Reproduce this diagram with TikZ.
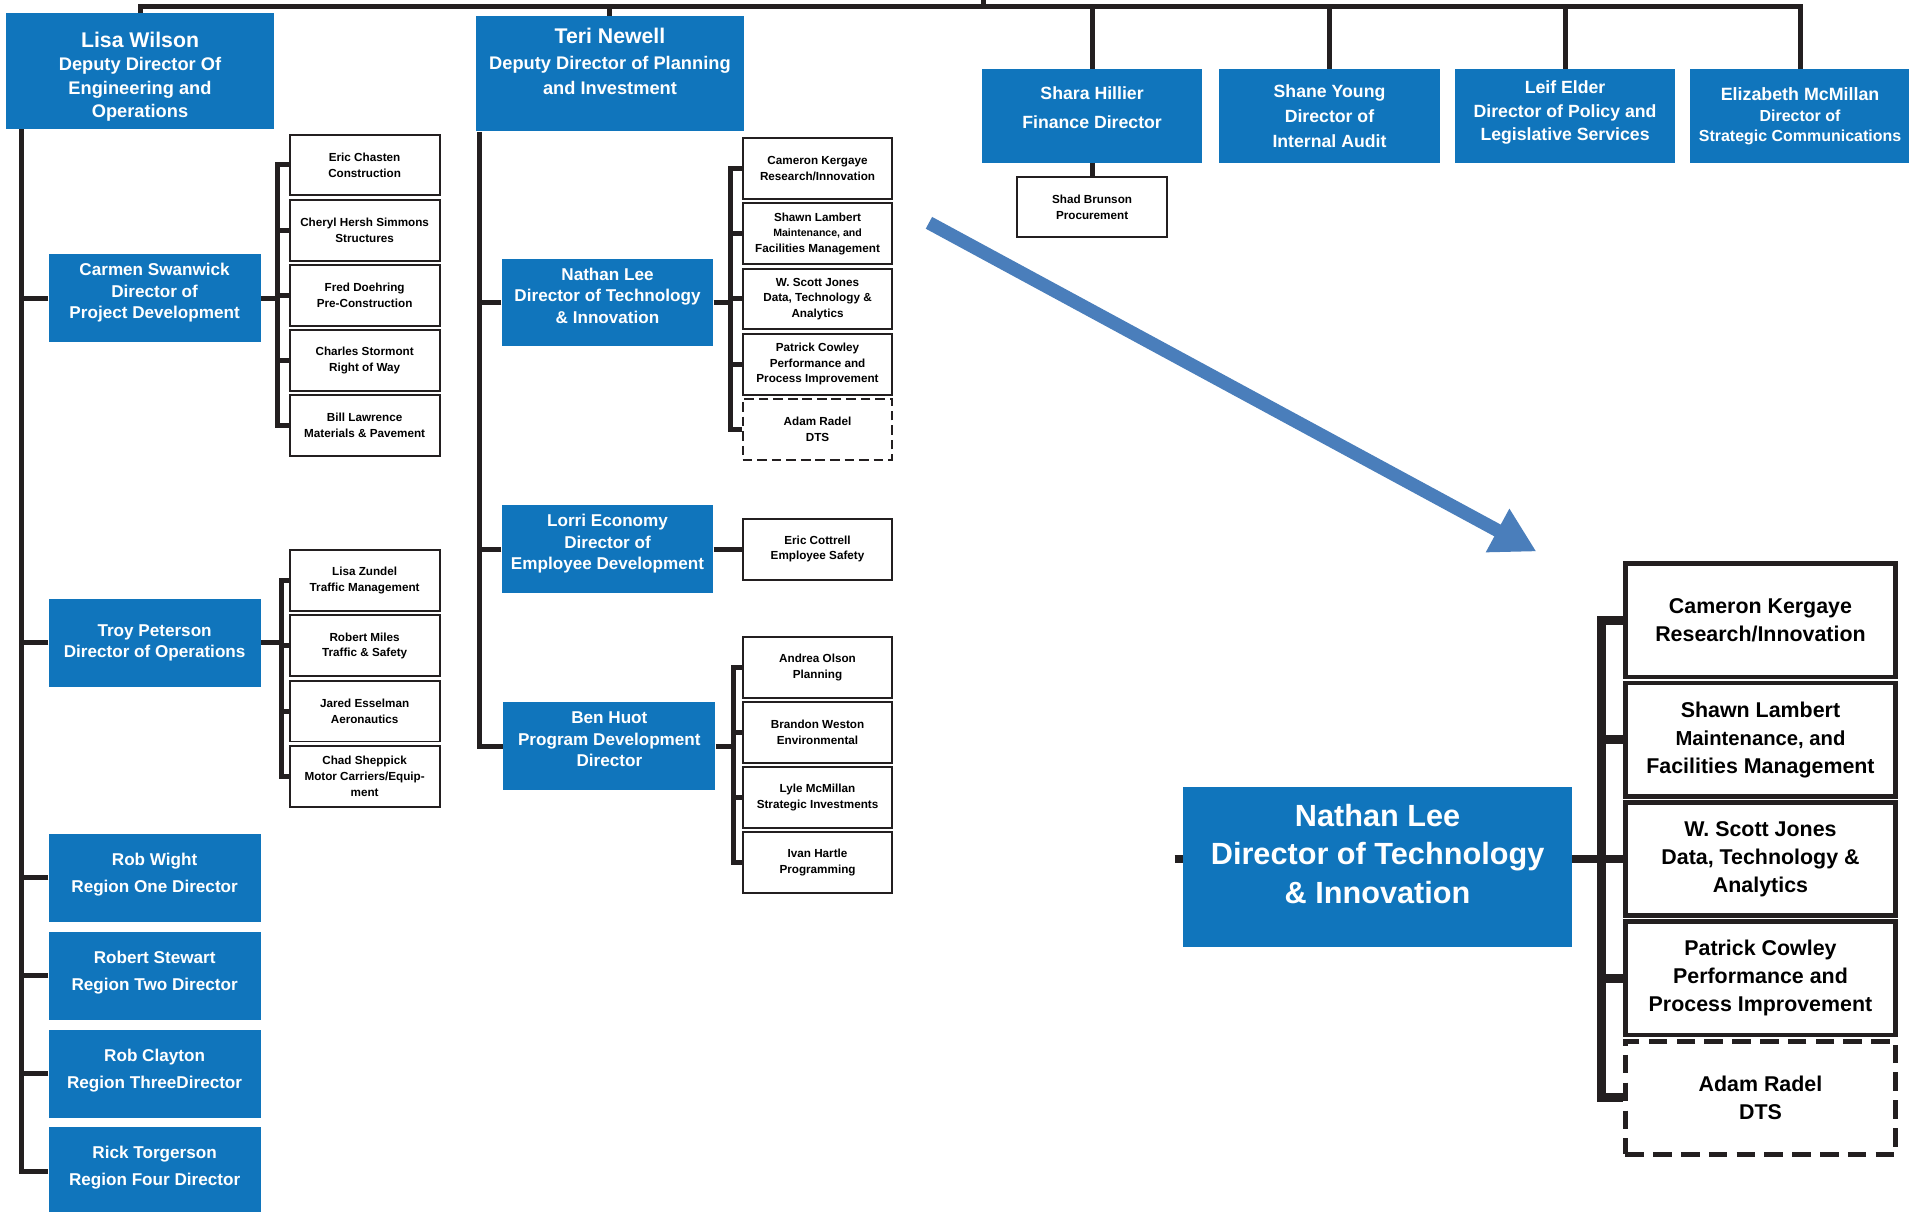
\documentclass[tikz,border=0pt]{standalone}
\usepackage{fontspec}
\setmainfont{Liberation Sans}
\usetikzlibrary{arrows.meta,positioning}
\definecolor{ChartBlue}{RGB}{16,117,188}
\definecolor{ArrowBlue}{RGB}{74,126,187}
\definecolor{LineBlack}{RGB}{35,31,32}
\tikzset{
  link/.style={draw=LineBlack,line width=3.5pt},
  biglink/.style={draw=LineBlack,line width=6pt},
  dirbox/.style={fill=ChartBlue,text=white,inner sep=0pt,minimum width=5.22cm,
    minimum height=2.16cm,align=center,font=\bfseries\fontsize{12}{15}\selectfont},
  dirthree/.style={dirbox,text depth=10pt},
  regionbox/.style={dirbox,text depth=7.5pt,font=\bfseries\fontsize{12}{19}\selectfont},
  deputybox/.style={dirbox,minimum width=6.6cm,minimum height=2.85cm,
    font=\bfseries\fontsize{12.8}{16.2}\selectfont},
  headbox/.style={dirbox,minimum width=5.43cm,minimum height=2.31cm,
    font=\bfseries\fontsize{12.4}{16.5}\selectfont},
  staffbox/.style={draw=LineBlack,line width=1.4pt,fill=white,inner sep=0pt,
    minimum width=3.69cm,minimum height=1.5cm,align=center,
    font=\bfseries\fontsize{8.2}{11}\selectfont},
  bigbox/.style={dirbox,minimum width=9.57cm,minimum height=3.96cm,
    font=\bfseries\fontsize{21.5}{27}\selectfont},
  bigstaff/.style={staffbox,line width=3.4pt,minimum width=6.66cm,
    minimum height=2.79cm,font=\bfseries\fontsize{15}{19.6}\selectfont},
  vacant/.style={dash pattern=on 6.8pt off 3.4pt},
  bigvacant/.style={dash pattern=on 13pt off 6.5pt},
  bluearrow/.style={draw=ArrowBlue,line width=0.33cm,
    -{Triangle[length=1.09cm,width=1.14cm]}},
}
\begin{document}
\begin{tikzpicture}[x=0.03cm,y=-0.03cm]
\useasboundingbox (0,0) rectangle (1568,995);

% top row
\node[deputybox,text height=67pt] (lisa) at (115,58.5) {{\fontsize{14.9}{18}\selectfont Lisa Wilson}\\Deputy Director Of\\Engineering and\\Operations};
\node[deputybox,font=\bfseries\fontsize{12.8}{18}\selectfont,text depth=0.6cm] (teri) at (501,60.5) {{\fontsize{14.9}{18}\selectfont Teri Newell}\\Deputy Director of Planning\\and Investment};
\node[headbox,font=\bfseries\fontsize{12.4}{20.4}\selectfont,text depth=12pt] (shara) at (897,95.5) {Shara Hillier\\Finance Director};
\node[headbox,font=\bfseries\fontsize{12.4}{17.5}\selectfont] (shane) at (1092,95.5) {Shane Young\\Director of\\Internal Audit};
\node[headbox,text depth=7.7pt] (leif) at (1285.5,95.5) {Leif Elder\\Director of Policy and\\Legislative Services};
\node[headbox,font=\bfseries\fontsize{11.2}{14.5}\selectfont] (eliz) at (1478.5,95.5) {{\fontsize{12.5}{15}\selectfont Elizabeth McMillan}\\Director of\\Strategic Communications};
\node[staffbox] (brunson) at (897,170) {Shad Brunson\\Procurement};

\coordinate (bus) at (808,5.5);
\coordinate (chief) at (808,0);
\draw[link] (lisa.north) |- (bus) -| (eliz.north);
\draw[link] (chief) -- (bus);
\foreach \n in {teri,shara,shane,leif}
  \draw[link] (\n.north) -- (\n.north |- bus);
\draw[link] (shara) -- (brunson);

% engineering and operations
\node[dirthree] (swanwick) at (127,245) {Carmen Swanwick\\Director of\\Project Development};
\node[dirbox] (peterson) at (127,528) {Troy Peterson\\Director of Operations};
\node[regionbox] (wight) at (127,721) {Rob Wight\\Region One Director};
\node[regionbox] (stewart) at (127,801.5) {Robert Stewart\\Region Two Director};
\node[regionbox] (clayton) at (127,882) {Rob Clayton\\Region ThreeDirector};
\node[regionbox] (torgerson) at (127,962) {Rick Torgerson\\Region Four Director};

\path (lisa.south west) ++(13,0) coordinate (ltrunk);
\draw[link] (ltrunk) |- (torgerson.west);
\foreach \n in {swanwick,peterson,wight,stewart,clayton}
  \draw[link] (\n.west) -- (\n.west -| ltrunk);

\node[staffbox] (chasten) at (299.5,135.5) {Eric Chasten\\Construction};
\node[staffbox,below=1.6pt of chasten] (simmons) {Cheryl Hersh Simmons\\Structures};
\node[staffbox,below=1.6pt of simmons] (doehring) {Fred Doehring\\Pre-Construction};
\node[staffbox,below=1.6pt of doehring] (stormont) {Charles Stormont\\Right of Way};
\node[staffbox,below=1.6pt of stormont] (lawrence) {Bill Lawrence\\Materials \& Pavement};
\draw[link] (swanwick.east) -- ++(14,0) coordinate (swbr);
\draw[link] (chasten.west) -| (swbr) |- (lawrence.west);
\foreach \s in {simmons,doehring,stormont}
  \draw[link] (\s.west) -- (\s.west -| swbr);

\node[staffbox] (zundel) at (299.5,477) {Lisa Zundel\\Traffic Management};
\node[staffbox,below=1.6pt of zundel] (miles) {Robert Miles\\Traffic \& Safety};
\node[staffbox,below=1.6pt of miles] (esselman) {Jared Esselman\\Aeronautics};
\node[staffbox,below=1.6pt of esselman] (sheppick) {Chad Sheppick\\Motor Carriers/Equip-\\ment};
\draw[link] (peterson.east) -- ++(17,0) coordinate (ptbr);
\draw[link] (zundel.west) -| (ptbr) |- (sheppick.west);
\foreach \s in {miles,esselman}
  \draw[link] (\s.west) -- (\s.west -| ptbr);

% planning and investment
\node[dirthree] (lee) at (499,248.5) {Nathan Lee\\Director of Technology\\\& Innovation};
\node[dirthree] (economy) at (499,451) {Lorri Economy\\Director of\\Employee Development};
\node[dirthree] (huot) at (500.5,613) {Ben Huot\\Program Development\\Director};

\path (teri.south west) ++(3,0) coordinate (mtrunk);
\draw[link] (mtrunk) |- (huot.west);
\foreach \n in {lee,economy}
  \draw[link] (\n.west) -- (\n.west -| mtrunk);

\node[staffbox] (kergaye) at (671.5,138.5) {Cameron Kergaye\\Research/Innovation};
\node[staffbox,below=1.6pt of kergaye] (lambert) {Shawn Lambert\\\fontsize{7.4}{9.5}\selectfont Maintenance, and\\Facilities Management};
\node[staffbox,below=1.6pt of lambert] (jones) {W. Scott Jones\\Data, Technology \&\\Analytics};
\node[staffbox,below=1.6pt of jones] (cowley) {Patrick Cowley\\Performance and\\Process Improvement};
\node[staffbox,vacant,below=1.6pt of cowley] (radel) {Adam Radel\\DTS};
\draw[link] (lee.east) -- ++(14,0) coordinate (leebr);
\draw[link] (kergaye.west) -| (leebr) |- (radel.west);
\foreach \s in {lambert,jones,cowley}
  \draw[link] (\s.west) -- (\s.west -| leebr);

\node[staffbox] (cottrell) at (671.5,451) {Eric Cottrell\\Employee Safety};
\draw[link] (economy) -- (cottrell);

\node[staffbox] (olson) at (671.5,548) {Andrea Olson\\Planning};
\node[staffbox,below=1.6pt of olson] (weston) {Brandon Weston\\Environmental};
\node[staffbox,below=1.6pt of weston] (mcmillan) {Lyle McMillan\\Strategic Investments};
\node[staffbox,below=1.6pt of mcmillan] (hartle) {Ivan Hartle\\Programming};
\draw[link] (huot.east) -- ++(14.5,0) coordinate (hubr);
\draw[link] (olson.west) -| (hubr) |- (hartle.west);
\foreach \s in {weston,mcmillan}
  \draw[link] (\s.west) -- (\s.west -| hubr);

% enlarged view
\coordinate (arrowtail) at (763,183);
\coordinate (arrowtip) at (1262,453);
\draw[bluearrow] (arrowtail) -- (arrowtip);

\node[bigbox,text depth=0.66cm] (biglee) at (1131.5,712) {Nathan Lee\\Director of Technology\\\& Innovation};
\node[bigstaff] (bigkergaye) at (1446,509.5) {Cameron Kergaye\\Research/Innovation};
\node[bigstaff,below=0.9pt of bigkergaye] (biglambert) {Shawn Lambert\\\fontsize{14.2}{17.5}\selectfont Maintenance, and\\Facilities Management};
\node[bigstaff,below=0.9pt of biglambert] (bigjones) {W. Scott Jones\\Data, Technology \&\\Analytics};
\node[bigstaff,below=0.9pt of bigjones] (bigcowley) {Patrick Cowley\\Performance and\\Process Improvement};
\node[bigstaff,bigvacant,below=0.9pt of bigcowley] (bigradel) {Adam Radel\\DTS};

\path (biglee.east |- bigjones.west) ++(24,0) coordinate (bigbr);
\path (biglee.west |- bigjones.west) ++(-7,0) coordinate (bigstub);
\draw[biglink] (bigstub) -- (biglee.west |- bigstub);
\draw[biglink] (biglee.east |- bigjones.west) -- (bigjones.west);
\draw[biglink] (bigkergaye.west) -| (bigbr) |- (bigradel.west);
\foreach \s in {biglambert,bigcowley}
  \draw[biglink] (\s.west) -- (\s.west -| bigbr);
\end{tikzpicture}
\end{document}
